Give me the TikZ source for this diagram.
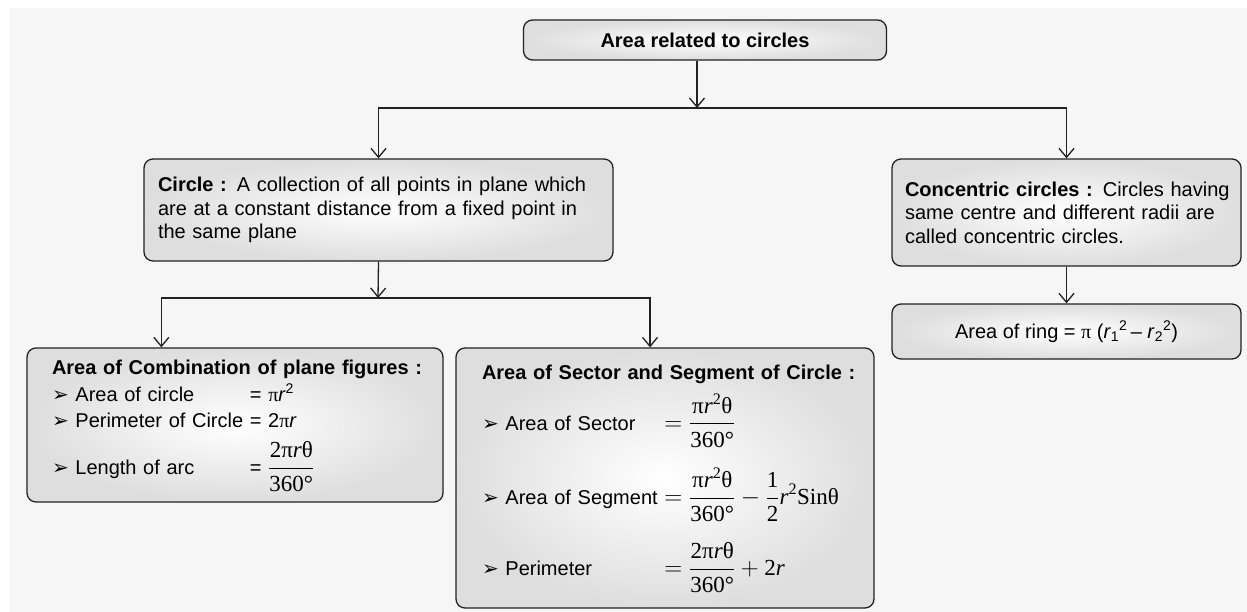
\documentclass[tikz,border=0pt]{standalone}
\usepackage{amsmath}
\usepackage{fontspec}
\setmainfont{Liberation Serif}
\setsansfont{Liberation Sans}
\newfontfamily\symfont{DejaVu Sans}
\usetikzlibrary{arrows.meta, positioning, calc}

\definecolor{bgpanel}{HTML}{F6F6F6}
\definecolor{edge}{HTML}{222222}

\newcommand{\bul}{{\symfont\fontsize{20}{20}\selectfont ➢}\ }
\newcommand{\rt}[1]{\text{\rmfamily #1}}
\newcommand{\upi}{\rt{π}}
\newcommand{\uth}{\rt{θ}}
\newcommand{\ir}{\text{\rmfamily\itshape r}}
\newcommand{\mth}[1]{{\fontsize{23}{26}\selectfont$\displaystyle#1$}}

\begin{document}
\begin{tikzpicture}[
        x=1pt, y=-1pt,
        >={Straight Barb[length=9pt,width=15pt]},
        panel/.style={draw=edge, line width=1.3pt, rounded corners=9pt,
                      inner color=white, outer color=black!13,
                      align=left, inner ysep=4pt,
                      font=\sffamily\fontsize{20}{23.5}\selectfont},
        link/.style={draw=edge, line width=1.3pt, ->}
    ]
        \useasboundingbox (0,0) rectangle (1247,612);
        \fill[bgpanel] (10,8) rectangle (1247,612);

        \node[panel, align=center, minimum width=363pt, minimum height=40pt] (top) at (705,40)
            {\textbf{Area related to circles}};
        \node[panel, minimum width=469pt, minimum height=102pt, inner xsep=14pt, text width=441pt] (circ) at (378.5,210)
            {\textbf{Circle :} A collection of all points in plane which\\
             are at a constant distance from a fixed point in\\
             the same plane};
        \node[panel, minimum width=349pt, minimum height=107pt, inner xsep=13pt, text width=323pt] (conc) at (1066.5,212.5)
            {\mbox{\textbf{Concentric circles :} Circles having}\\
             same centre and different radii are\\
             called concentric circles.};
        \node[panel, align=center, minimum width=349pt, minimum height=55pt] (ring) at (1066.5,331.5)
            {Area of ring = {\rmfamily π} (\textit{r}\textsubscript{1}\textsuperscript{2}\,– \textit{r}\textsubscript{2}\textsuperscript{2})};
        \node[panel, minimum width=416pt, minimum height=154pt, inner xsep=25pt, text width=366pt] (comb) at (235,425)
            {\begin{tabular}{@{}l@{ }l@{}}
             \multicolumn{2}{@{}l@{}}{\textbf{Area of Combination of plane figures :}}\\[2pt]
             \bul Area of circle & = {\rmfamily π}\textit{r}\textsuperscript{2}\\[3pt]
             \bul Perimeter of Circle & = 2{\rmfamily π}\textit{r}\\[7pt]
             \bul Length of arc & = \mth{\frac{\rt{2}\upi\ir\uth}{\rt{360°}}}
             \end{tabular}};
        \node[panel, minimum width=418pt, minimum height=260pt, inner xsep=26pt, text width=366pt] (sect) at (665,478)
            {\begin{tabular}{@{}l@{ }l@{}}
             \multicolumn{2}{@{}l@{}}{\textbf{Area of Sector and Segment of Circle :}}\\[7pt]
             \bul Area of Sector & \mth{=\frac{\upi\ir^{\rt{2}}\uth}{\rt{360°}}}\\[31pt]
             \bul Area of Segment & \mth{=\frac{\upi\ir^{\rt{2}}\uth}{\rt{360°}}-\frac{\rt{1}}{\rt{2}}\ir^{\rt{2}}\rt{Sin}\uth}\\[31pt]
             \bul Perimeter & \mth{=\frac{\rt{2}\upi\ir\uth}{\rt{360°}}+\rt{2}\ir}
             \end{tabular}\\[28pt]};

        % junctions of the tree
        \coordinate (j1) at (697,108);
        \coordinate (j2) at (378,298);

        \draw[link] (j1 |- top.south) -- (j1);
        \draw[link] (j1) -| (circ.north);
        \draw[link] (j1) -| (conc.north);
        \draw[link] (conc.south) -- (ring.north);
        \draw[link] (circ.south) -- (j2);
        \draw[link] (j2) -| ($(comb.north west)+(135,0)$);
        \draw[link] (j2) -| ($(sect.north)+(-15,0)$);
    \end{tikzpicture}
\end{document}
